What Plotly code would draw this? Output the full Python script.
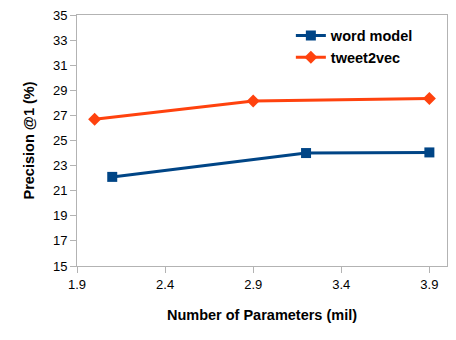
import plotly.graph_objects as go

# Data
word_x = [2.1, 3.2, 3.9]
word_y = [22.1, 24.0, 24.05]
tweet_x = [2.0, 2.9, 3.9]
tweet_y = [26.7, 28.15, 28.35]

x_ticks = [1.9, 2.4, 2.9, 3.4, 3.9]
y_ticks = list(range(15, 36, 2))

fig = go.Figure()
fig.add_trace(go.Scatter(
    x=word_x, y=word_y, name="<b>word model</b>", mode="lines+markers",
    line=dict(color="#004586", width=3),
    marker=dict(symbol="square", size=10, color="#004586"),
))
fig.add_trace(go.Scatter(
    x=tweet_x, y=tweet_y, name="<b>tweet2vec</b>", mode="lines+markers",
    line=dict(color="#ff420e", width=3),
    marker=dict(symbol="diamond", size=10, color="#ff420e"),
))

axis_style = dict(
    showgrid=False, zeroline=False, showline=True, mirror=True,
    linecolor="#b3b3b3", linewidth=1, ticks="outside", ticklen=6,
    tickcolor="#b3b3b3", tickfont=dict(size=13, color="black"),
    automargin=False,
)

fig.update_xaxes(
    range=[1.9, 4.0], tickvals=x_ticks, ticktext=[str(v) for v in x_ticks],
    title=dict(text="<b>Number of Parameters (mil)</b>", font=dict(size=14.5, color="black"), standoff=19),
    **axis_style,
)
fig.update_yaxes(
    range=[15, 35], tickvals=y_ticks,
    title=dict(text="<b>Precision @1 (%)</b>", font=dict(size=14.5, color="black"), standoff=14),
    **axis_style,
)

fig.update_layout(
    width=456, height=340,
    margin=dict(l=77, r=9, t=15, b=74),
    plot_bgcolor="white", paper_bgcolor="white",
    font=dict(family="Liberation Sans, Arial, sans-serif", color="black"),
    legend=dict(
        x=0.578, y=0.982, xanchor="left", yanchor="top",
        bgcolor="rgba(0,0,0,0)", font=dict(size=14.5, color="black"),
        itemwidth=30, tracegroupgap=4,
    ),
)

# drop the default page margin so the figure fills the window
fig.write_html("out.html", config={"displayModeBar": False},
               post_script="document.body.style.margin='0';")
